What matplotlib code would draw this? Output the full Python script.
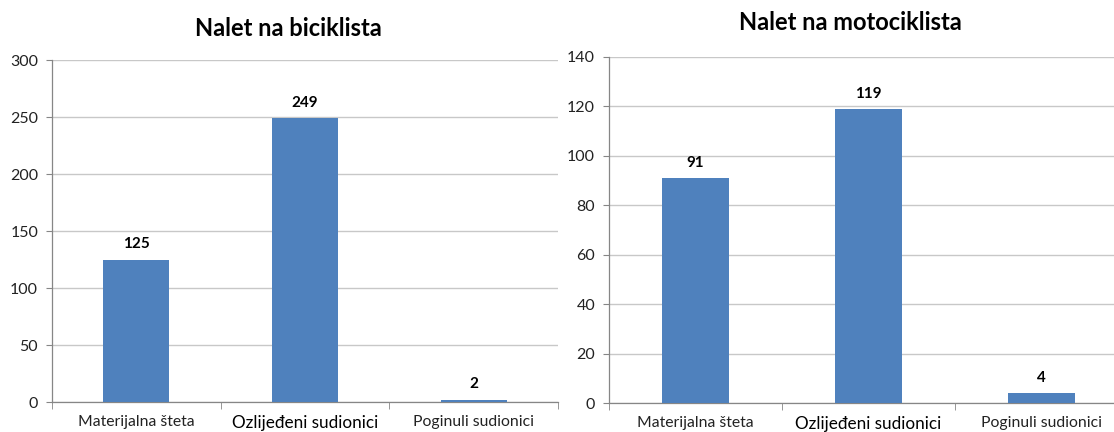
import matplotlib
matplotlib.use("Agg")
import matplotlib.pyplot as plt
import numpy as np

plt.rcParams["font.family"] = ["Lato", "DejaVu Sans"]

categories = ["Materijalna šteta", "Ozlijeđeni sudionici", "Poginuli sudionici"]
bicikl = [125, 249, 2]
motocikl = [91, 119, 4]
titles = ["Nalet na biciklista", "Nalet na motociklista"]
ylims = [(0, 300, 50), (0, 140, 20)]

BAR = "#4F81BD"
AXC = "#868686"
GRID = "#C8C8C8"

fig = plt.figure(figsize=(11.14, 4.32), dpi=100)
# axes boxes in figure fractions (left panel, right panel)
boxes = [[0.0467, 0.0694, 0.4542, 0.7917], [0.5467, 0.0671, 0.4659, 0.8010]]
title_pos = [(0.259, 0.935), (0.763, 0.947)]


def draw(ax, vals, lim):
    x = np.arange(len(categories))
    ax.bar(x, vals, width=0.39, color=BAR, zorder=3)
    lo, hi, step = lim
    ax.set_ylim(lo, hi)
    ax.set_xlim(-0.5, len(categories) - 0.5)
    ax.set_yticks(np.arange(lo, hi + step, step))
    ax.yaxis.grid(True, color=GRID, lw=1.0, zorder=0)
    for s in ("top", "right"):
        ax.spines[s].set_visible(False)
    for s in ("left", "bottom"):
        ax.spines[s].set_color(AXC)
        ax.spines[s].set_linewidth(0.9)
    ax.tick_params(axis="y", length=4, color=AXC, labelsize=11.5,
                   labelcolor="#222222", pad=6)
    # category separators as minor ticks, labels on majors
    ax.set_xticks(x)
    ax.set_xticks(np.arange(-0.5, len(categories)), minor=True)
    ax.tick_params(axis="x", which="major", length=0, pad=9)
    ax.tick_params(axis="x", which="minor", length=5, color=AXC)
    ax.set_xticklabels(categories)
    for i, t in enumerate(ax.get_xticklabels()):
        if i == 1:
            t.set_fontsize(12.3)
            t.set_color("black")
        else:
            t.set_fontsize(11.3)
            t.set_color("#222222")
    for xi, v in zip(x, vals):
        ax.annotate(str(v), (xi, v), xytext=(0, 6), textcoords="offset points",
                    ha="center", va="bottom", fontsize=11, fontweight="bold",
                    color="black")


for box, vals, lim, title, tp in zip(boxes, [bicikl, motocikl], ylims, titles, title_pos):
    ax = fig.add_axes(box)
    draw(ax, vals, lim)
    fig.text(tp[0], tp[1], title, ha="center", va="center", fontsize=17,
             fontweight="bold", color="black")

fig.savefig("out.png", dpi=100)
